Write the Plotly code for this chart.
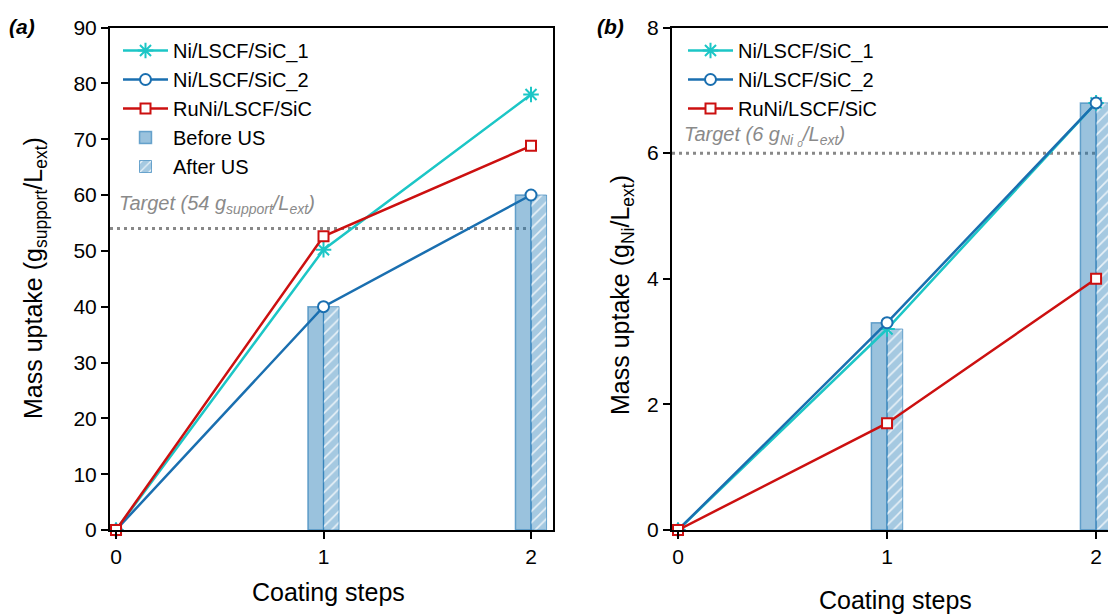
import plotly.graph_objects as go

# ---- data ----
steps = [0, 1, 2]
bar_steps = [1, 2]

# (a) mass uptake of support, g/L
a_ni_1 = [0, 50.2, 78.0]
a_ni_2 = [0, 40.0, 60.0]
a_runi = [0, 52.6, 68.8]
a_before_us = [40.0, 60.0]
a_after_us = [40.0, 60.0]
a_target = 54

# (b) mass uptake of Ni, g/L
b_ni_1 = [0, 3.2, 6.8]
b_ni_2 = [0, 3.3, 6.8]
b_runi = [0, 1.7, 4.0]
b_before_us = [3.3, 6.8]
b_after_us = [3.2, 6.8]
b_target = 6

series_names = ["Ni/LSCF/SiC_1", "Ni/LSCF/SiC_2", "RuNi/LSCF/SiC"]

# ---- styles ----
FONT = "Arial, Liberation Sans, sans-serif"
C_CYAN = "#1cc6c6"
C_BLUE = "#1a6fb0"
C_RED = "#cc1010"
BAR_FILL = "rgba(31,119,180,0.45)"
BAR_EDGE = "rgba(31,119,180,0.6)"
HATCH_BG = "rgba(31,119,180,0.40)"
BAR_W = 0.075

xa_range = [-0.029, 2.106]
xb_range = [-0.0287, 2.057]

fig = go.Figure()


def add_panel(xa, ya, lines, before, after, legend, show_bar_legend):
    # bars first so the lines sit on top
    fig.add_trace(go.Bar(
        x=bar_steps, y=before, width=BAR_W, offset=-BAR_W,
        name="Before US", xaxis=xa, yaxis=ya, legend=legend,
        showlegend=show_bar_legend, legendrank=4,
        marker=dict(color=BAR_FILL, line=dict(color=BAR_EDGE, width=1.5)),
    ))
    fig.add_trace(go.Bar(
        x=bar_steps, y=after, width=BAR_W, offset=0,
        name="After US", xaxis=xa, yaxis=ya, legend=legend,
        showlegend=show_bar_legend, legendrank=5,
        marker=dict(color=HATCH_BG, line=dict(color=BAR_EDGE, width=1.0),
                    pattern=dict(shape="/", fillmode="replace",
                                 bgcolor=HATCH_BG, fgcolor="white",
                                 fgopacity=0.75, size=8, solidity=0.2)),
    ))
    styles = [
        (C_CYAN, dict(symbol="asterisk-open", size=13,
                      line=dict(color=C_CYAN, width=2))),
        (C_BLUE, dict(symbol="circle", size=11, color="white",
                      line=dict(color=C_BLUE, width=2))),
        (C_RED, dict(symbol="square", size=10, color="white",
                     line=dict(color=C_RED, width=2))),
    ]
    for rank, (name, vals, (col, mk)) in enumerate(zip(series_names, lines, styles), 1):
        fig.add_trace(go.Scatter(
            x=steps, y=vals, mode="lines+markers", name=name,
            xaxis=xa, yaxis=ya, legend=legend, cliponaxis=False,
            legendrank=rank,
            line=dict(color=col, width=2.5), marker=mk,
        ))


add_panel("x", "y", [a_ni_1, a_ni_2, a_runi], a_before_us, a_after_us, "legend", True)
add_panel("x2", "y2", [b_ni_1, b_ni_2, b_runi], b_before_us, b_after_us, "legend2", False)

W, H = 1108, 616
top_px, bot_px = 27.5, 530
ydom = [1 - bot_px / H, 1 - top_px / H]

axis_common = dict(
    showgrid=False, zeroline=False, showline=True, linecolor="black",
    linewidth=2, ticks="outside", ticklen=7, tickwidth=2, tickcolor="black",
    automargin=False,
    tickfont=dict(family=FONT, size=21, color="black"),
)

legend_common = dict(
    xanchor="left", yanchor="top", bgcolor="rgba(0,0,0,0)",
    font=dict(family=FONT, size=20, color="black"), itemwidth=45,
    tracegroupgap=0, traceorder="normal",
)

fig.update_layout(
    template="none",
    width=W, height=H,
    margin=dict(l=0, r=0, t=0, b=0, autoexpand=False),
    paper_bgcolor="white", plot_bgcolor="white",
    barmode="overlay",
    font=dict(family=FONT, color="black"),
    xaxis=dict(domain=[110 / W, 553 / W], range=xa_range, tickvals=steps,
               mirror=True, anchor="y", **axis_common),
    yaxis=dict(domain=ydom, range=[0, 90], dtick=10, mirror=True,
               anchor="x", **axis_common),
    xaxis2=dict(domain=[672 / W, 1.0], range=xb_range, tickvals=steps,
                mirror=True, anchor="y2", **axis_common),
    yaxis2=dict(domain=ydom, range=[0, 8], dtick=2, mirror=False,
                anchor="x2", **axis_common),
    legend=dict(x=118 / W, y=1 - 31 / H, **legend_common),
    legend2=dict(x=683 / W, y=1 - 31 / H, **legend_common),
)

# target lines
for xref, yref, xr, tval in [("x", "y", xa_range, a_target), ("x2", "y2", xb_range, b_target)]:
    fig.add_shape(type="line", xref=xref, yref=yref, x0=xr[0], x1=steps[-1],
                  y0=tval, y1=tval, layer="below",
                  line=dict(color="#888888", width=3, dash="3px,4px"))

ann_font = dict(family=FONT, size=20, color="#8a8a8a")
title_font = dict(family=FONT, size=25, color="black")
annotations = [
    dict(text="<i>Target (54 g<sub>support</sub>/L<sub>ext</sub>)</i>",
         xref="x", yref="y", x=0.005, y=a_target, xanchor="left",
         yanchor="bottom", yshift=9, showarrow=False, font=ann_font),
    dict(text="<i>Target (6 g<sub>Ni ₀</sub>/L<sub>ext</sub>)</i>",
         xref="x2", yref="y2", x=0.02, y=b_target, xanchor="left",
         yanchor="bottom", yshift=3, showarrow=False, font=ann_font),
    dict(text="<b><i>(a)</i></b>", xref="paper", yref="paper",
         x=22 / W, y=1 - 27 / H, xanchor="center", yanchor="middle",
         showarrow=False, font=dict(family=FONT, size=21, color="black")),
    dict(text="<b><i>(b)</i></b>", xref="paper", yref="paper",
         x=610 / W, y=1 - 27 / H, xanchor="center", yanchor="middle",
         showarrow=False, font=dict(family=FONT, size=21, color="black")),
    dict(text="Coating steps", xref="paper", yref="paper",
         x=328 / W, y=1 - 592 / H, xanchor="center", yanchor="middle",
         showarrow=False, font=title_font),
    dict(text="Coating steps", xref="paper", yref="paper",
         x=895 / W, y=1 - 600 / H, xanchor="center", yanchor="middle",
         showarrow=False, font=title_font),
    dict(text="Mass uptake (g<sub>support</sub>/L<sub>ext</sub>)",
         xref="paper", yref="paper", x=35 / W, y=1 - 278 / H,
         xanchor="center", yanchor="middle", textangle=-90,
         showarrow=False, font=title_font),
    dict(text="Mass uptake (g<sub>Ni</sub>/L<sub>ext</sub>)",
         xref="paper", yref="paper", x=622 / W, y=1 - 295 / H,
         xanchor="center", yanchor="middle", textangle=-90,
         showarrow=False, font=title_font),
]
fig.update_layout(annotations=annotations)

fig.write_html("out.html")
